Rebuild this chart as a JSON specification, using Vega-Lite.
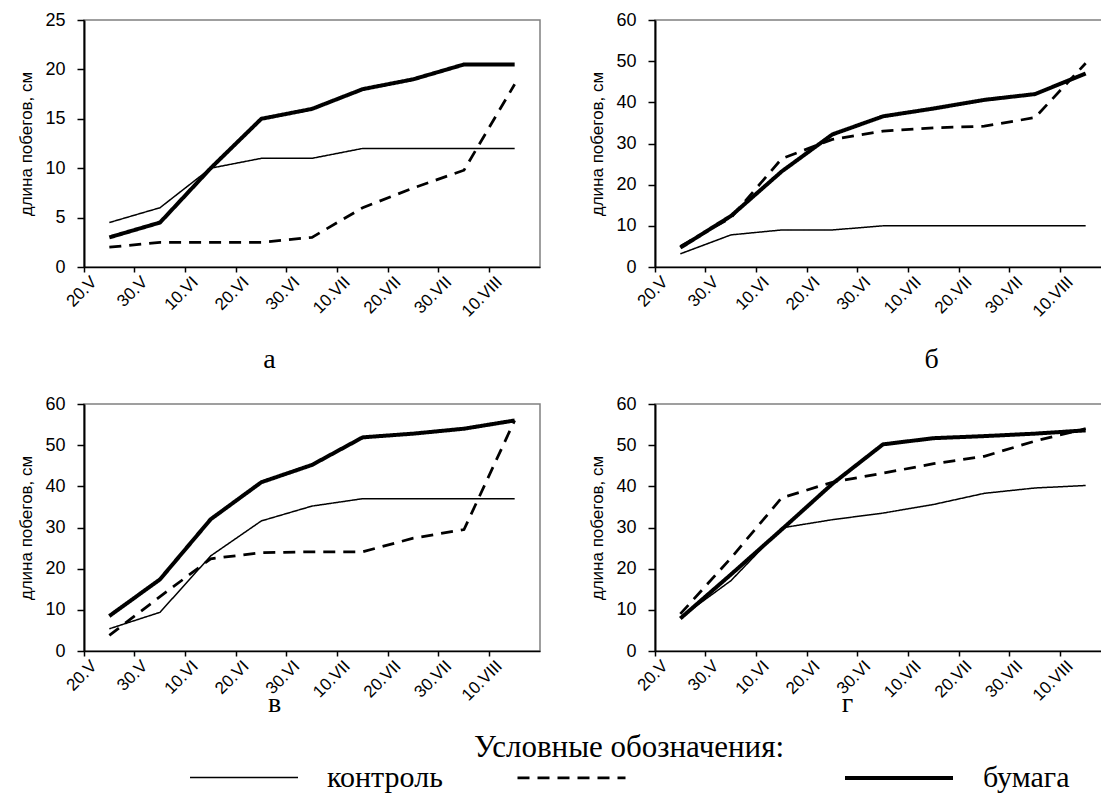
{
  "$schema": "https://vega.github.io/schema/vega-lite/v6.json",
  "background": "white",
  "padding": {"left": 17, "top": 10, "right": 0, "bottom": 0},
  "config": {
    "font": "Liberation Sans",
    "view": {"stroke": "#808080", "strokeWidth": 1.5},
    "line": {"color": "black"},
    "axis": {"grid": false, "domainColor": "black", "tickColor": "black", "labelColor": "black", "titleColor": "black", "labelFont": "Liberation Sans", "titleFont": "Liberation Sans", "titleFontWeight": "normal"},
    "axisY": {"labelFontSize": 18, "titleFontSize": 17, "tickSize": 7, "labelPadding": 12, "domainWidth": 2, "tickWidth": 1.5, "titlePadding": 9},
    "axisX": {"labelFontSize": 17, "labelAngle": -45, "labelAlign": "right", "labelBaseline": "middle", "bandPosition": 0, "labelOffset": -15, "tickSize": 5, "labelPadding": 7, "domainWidth": 1.5, "tickWidth": 1.5, "titleFont": "Liberation Serif", "titleFontSize": 28, "titleBaseline": "middle", "titleAlign": "center"},
    "legend": {"orient": "none", "legendX": 105, "legendY": 713, "direction": "horizontal", "titleFont": "Liberation Serif", "titleFontSize": 31, "titleFontWeight": "normal", "titleColor": "black", "titleAnchor": "middle", "titleLimit": 600, "titlePadding": -42, "labelFont": "Liberation Serif", "labelFontSize": 30, "labelColor": "black", "symbolType": "stroke", "symbolSize": 11664, "symbolStrokeColor": "black", "labelOffset": 28, "columnPadding": 67, "gridAlign": "all"}
  },
  "datasets": {
    "d": [
      {"panel": "а", "date": "20.V", "series": "контроль", "value": 4.5},
      {"panel": "а", "date": "30.V", "series": "контроль", "value": 6},
      {"panel": "а", "date": "10.VI", "series": "контроль", "value": 10},
      {"panel": "а", "date": "20.VI", "series": "контроль", "value": 11},
      {"panel": "а", "date": "30.VI", "series": "контроль", "value": 11},
      {"panel": "а", "date": "10.VII", "series": "контроль", "value": 12},
      {"panel": "а", "date": "20.VII", "series": "контроль", "value": 12},
      {"panel": "а", "date": "30.VII", "series": "контроль", "value": 12},
      {"panel": "а", "date": "10.VIII", "series": "контроль", "value": 12},
      {"panel": "а", "date": "20.V", "series": " ", "value": 2},
      {"panel": "а", "date": "30.V", "series": " ", "value": 2.5},
      {"panel": "а", "date": "10.VI", "series": " ", "value": 2.5},
      {"panel": "а", "date": "20.VI", "series": " ", "value": 2.5},
      {"panel": "а", "date": "30.VI", "series": " ", "value": 3},
      {"panel": "а", "date": "10.VII", "series": " ", "value": 6},
      {"panel": "а", "date": "20.VII", "series": " ", "value": 8},
      {"panel": "а", "date": "30.VII", "series": " ", "value": 9.8},
      {"panel": "а", "date": "10.VIII", "series": " ", "value": 18.5},
      {"panel": "а", "date": "20.V", "series": "бумага", "value": 3},
      {"panel": "а", "date": "30.V", "series": "бумага", "value": 4.5},
      {"panel": "а", "date": "10.VI", "series": "бумага", "value": 10},
      {"panel": "а", "date": "20.VI", "series": "бумага", "value": 15},
      {"panel": "а", "date": "30.VI", "series": "бумага", "value": 16},
      {"panel": "а", "date": "10.VII", "series": "бумага", "value": 18},
      {"panel": "а", "date": "20.VII", "series": "бумага", "value": 19},
      {"panel": "а", "date": "30.VII", "series": "бумага", "value": 20.5},
      {"panel": "а", "date": "10.VIII", "series": "бумага", "value": 20.5},
      {"panel": "б", "date": "20.V", "series": "контроль", "value": 3.2},
      {"panel": "б", "date": "30.V", "series": "контроль", "value": 7.8},
      {"panel": "б", "date": "10.VI", "series": "контроль", "value": 9},
      {"panel": "б", "date": "20.VI", "series": "контроль", "value": 9},
      {"panel": "б", "date": "30.VI", "series": "контроль", "value": 10},
      {"panel": "б", "date": "10.VII", "series": "контроль", "value": 10},
      {"panel": "б", "date": "20.VII", "series": "контроль", "value": 10},
      {"panel": "б", "date": "30.VII", "series": "контроль", "value": 10},
      {"panel": "б", "date": "10.VIII", "series": "контроль", "value": 10},
      {"panel": "б", "date": "20.V", "series": " ", "value": 5},
      {"panel": "б", "date": "30.V", "series": " ", "value": 12},
      {"panel": "б", "date": "10.VI", "series": " ", "value": 26.3},
      {"panel": "б", "date": "20.VI", "series": " ", "value": 31},
      {"panel": "б", "date": "30.VI", "series": " ", "value": 33},
      {"panel": "б", "date": "10.VII", "series": " ", "value": 33.8},
      {"panel": "б", "date": "20.VII", "series": " ", "value": 34.2},
      {"panel": "б", "date": "30.VII", "series": " ", "value": 36.3},
      {"panel": "б", "date": "10.VIII", "series": " ", "value": 49.5},
      {"panel": "б", "date": "20.V", "series": "бумага", "value": 4.7},
      {"panel": "б", "date": "30.V", "series": "бумага", "value": 12.4},
      {"panel": "б", "date": "10.VI", "series": "бумага", "value": 23.2},
      {"panel": "б", "date": "20.VI", "series": "бумага", "value": 32.2},
      {"panel": "б", "date": "30.VI", "series": "бумага", "value": 36.6},
      {"panel": "б", "date": "10.VII", "series": "бумага", "value": 38.5},
      {"panel": "б", "date": "20.VII", "series": "бумага", "value": 40.6},
      {"panel": "б", "date": "30.VII", "series": "бумага", "value": 42},
      {"panel": "б", "date": "10.VIII", "series": "бумага", "value": 47},
      {"panel": "в", "date": "20.V", "series": "контроль", "value": 5.4},
      {"panel": "в", "date": "30.V", "series": "контроль", "value": 9.4},
      {"panel": "в", "date": "10.VI", "series": "контроль", "value": 23.1},
      {"panel": "в", "date": "20.VI", "series": "контроль", "value": 31.6},
      {"panel": "в", "date": "30.VI", "series": "контроль", "value": 35.2},
      {"panel": "в", "date": "10.VII", "series": "контроль", "value": 37},
      {"panel": "в", "date": "20.VII", "series": "контроль", "value": 37},
      {"panel": "в", "date": "30.VII", "series": "контроль", "value": 37},
      {"panel": "в", "date": "10.VIII", "series": "контроль", "value": 37},
      {"panel": "в", "date": "20.V", "series": " ", "value": 3.8},
      {"panel": "в", "date": "30.V", "series": " ", "value": 13.2},
      {"panel": "в", "date": "10.VI", "series": " ", "value": 22.4},
      {"panel": "в", "date": "20.VI", "series": " ", "value": 23.9},
      {"panel": "в", "date": "30.VI", "series": " ", "value": 24.1},
      {"panel": "в", "date": "10.VII", "series": " ", "value": 24.1},
      {"panel": "в", "date": "20.VII", "series": " ", "value": 27.4},
      {"panel": "в", "date": "30.VII", "series": " ", "value": 29.5},
      {"panel": "в", "date": "10.VIII", "series": " ", "value": 56},
      {"panel": "в", "date": "20.V", "series": "бумага", "value": 8.5},
      {"panel": "в", "date": "30.V", "series": "бумага", "value": 17.4},
      {"panel": "в", "date": "10.VI", "series": "бумага", "value": 32},
      {"panel": "в", "date": "20.VI", "series": "бумага", "value": 41},
      {"panel": "в", "date": "30.VI", "series": "бумага", "value": 45.2},
      {"panel": "в", "date": "10.VII", "series": "бумага", "value": 51.9},
      {"panel": "в", "date": "20.VII", "series": "бумага", "value": 52.8},
      {"panel": "в", "date": "30.VII", "series": "бумага", "value": 54},
      {"panel": "в", "date": "10.VIII", "series": "бумага", "value": 56},
      {"panel": "г", "date": "20.V", "series": "контроль", "value": 8.1},
      {"panel": "г", "date": "30.V", "series": "контроль", "value": 17.1},
      {"panel": "г", "date": "10.VI", "series": "контроль", "value": 29.9},
      {"panel": "г", "date": "20.VI", "series": "контроль", "value": 31.9},
      {"panel": "г", "date": "30.VI", "series": "контроль", "value": 33.5},
      {"panel": "г", "date": "10.VII", "series": "контроль", "value": 35.6},
      {"panel": "г", "date": "20.VII", "series": "контроль", "value": 38.3},
      {"panel": "г", "date": "30.VII", "series": "контроль", "value": 39.6},
      {"panel": "г", "date": "10.VIII", "series": "контроль", "value": 40.2},
      {"panel": "г", "date": "20.V", "series": " ", "value": 9},
      {"panel": "г", "date": "30.V", "series": " ", "value": 22.6},
      {"panel": "г", "date": "10.VI", "series": " ", "value": 37.2},
      {"panel": "г", "date": "20.VI", "series": " ", "value": 41},
      {"panel": "г", "date": "30.VI", "series": " ", "value": 43.2},
      {"panel": "г", "date": "10.VII", "series": " ", "value": 45.5},
      {"panel": "г", "date": "20.VII", "series": " ", "value": 47.3},
      {"panel": "г", "date": "30.VII", "series": " ", "value": 51},
      {"panel": "г", "date": "10.VIII", "series": " ", "value": 54},
      {"panel": "г", "date": "20.V", "series": "бумага", "value": 7.9},
      {"panel": "г", "date": "30.V", "series": "бумага", "value": 18.6},
      {"panel": "г", "date": "10.VI", "series": "бумага", "value": 29.5},
      {"panel": "г", "date": "20.VI", "series": "бумага", "value": 40.6},
      {"panel": "г", "date": "30.VI", "series": "бумага", "value": 50.2},
      {"panel": "г", "date": "10.VII", "series": "бумага", "value": 51.7},
      {"panel": "г", "date": "20.VII", "series": "бумага", "value": 52.2},
      {"panel": "г", "date": "30.VII", "series": "бумага", "value": 52.8},
      {"panel": "г", "date": "10.VIII", "series": "бумага", "value": 53.6}
    ]
  },
  "bounds": "flush",
  "columns": 2,
  "spacing": {"row": 137, "column": 115},
  "concat": [
    {
      "width": 456, "height": 247,
      "data": {"name": "d"},
      "transform": [{"filter": "datum.panel == 'а'"}],
      "mark": {"type": "line", "color": "black"},
      "encoding": {
        "x": {"field": "date", "type": "ordinal", "sort": ["20.V", "30.V", "10.VI", "20.VI", "30.VI", "10.VII", "20.VII", "30.VII", "10.VIII"], "bandPosition": 0.5, "scale": {"type": "band", "paddingInner": 0, "paddingOuter": 0}, "axis": {"title": "а", "titleX": 185, "titleY": 92}},
        "y": {"field": "value", "type": "quantitative", "scale": {"domain": [0, 25]}, "axis": {"title": "длина побегов, см", "values": [0, 5, 10, 15, 20, 25]}},
        "strokeDash": {"field": "series", "type": "nominal", "scale": {"domain": ["контроль", " ", "бумага"], "range": [[1, 0], [12, 8], [1, 0]]}, "legend": {"title": "Условные обозначения:"}},
        "strokeWidth": {"field": "series", "type": "nominal", "scale": {"domain": ["контроль", " ", "бумага"], "range": [1.5, 4, 6]}, "legend": {"title": "Условные обозначения:"}}
      }
    },
    {
      "width": 456, "height": 247,
      "data": {"name": "d"},
      "transform": [{"filter": "datum.panel == 'б'"}],
      "mark": {"type": "line", "color": "black"},
      "encoding": {
        "x": {"field": "date", "type": "ordinal", "sort": ["20.V", "30.V", "10.VI", "20.VI", "30.VI", "10.VII", "20.VII", "30.VII", "10.VIII"], "bandPosition": 0.5, "scale": {"type": "band", "paddingInner": 0, "paddingOuter": 0}, "axis": {"title": "б", "titleX": 276, "titleY": 92}},
        "y": {"field": "value", "type": "quantitative", "scale": {"domain": [0, 60]}, "axis": {"title": "длина побегов, см", "values": [0, 10, 20, 30, 40, 50, 60]}},
        "strokeDash": {"field": "series", "type": "nominal", "scale": {"domain": ["контроль", " ", "бумага"], "range": [[1, 0], [12, 8], [1, 0]]}, "legend": {"title": "Условные обозначения:"}},
        "strokeWidth": {"field": "series", "type": "nominal", "scale": {"domain": ["контроль", " ", "бумага"], "range": [1.5, 4, 6]}, "legend": {"title": "Условные обозначения:"}}
      }
    },
    {
      "width": 456, "height": 247,
      "data": {"name": "d"},
      "transform": [{"filter": "datum.panel == 'в'"}],
      "mark": {"type": "line", "color": "black"},
      "encoding": {
        "x": {"field": "date", "type": "ordinal", "sort": ["20.V", "30.V", "10.VI", "20.VI", "30.VI", "10.VII", "20.VII", "30.VII", "10.VIII"], "bandPosition": 0.5, "scale": {"type": "band", "paddingInner": 0, "paddingOuter": 0}, "axis": {"title": "в", "titleX": 190, "titleY": 52}},
        "y": {"field": "value", "type": "quantitative", "scale": {"domain": [0, 60]}, "axis": {"title": "длина побегов, см", "values": [0, 10, 20, 30, 40, 50, 60]}},
        "strokeDash": {"field": "series", "type": "nominal", "scale": {"domain": ["контроль", " ", "бумага"], "range": [[1, 0], [12, 8], [1, 0]]}, "legend": {"title": "Условные обозначения:"}},
        "strokeWidth": {"field": "series", "type": "nominal", "scale": {"domain": ["контроль", " ", "бумага"], "range": [1.5, 4, 6]}, "legend": {"title": "Условные обозначения:"}}
      }
    },
    {
      "width": 456, "height": 247,
      "data": {"name": "d"},
      "transform": [{"filter": "datum.panel == 'г'"}],
      "mark": {"type": "line", "color": "black"},
      "encoding": {
        "x": {"field": "date", "type": "ordinal", "sort": ["20.V", "30.V", "10.VI", "20.VI", "30.VI", "10.VII", "20.VII", "30.VII", "10.VIII"], "bandPosition": 0.5, "scale": {"type": "band", "paddingInner": 0, "paddingOuter": 0}, "axis": {"title": "г", "titleX": 192, "titleY": 52}},
        "y": {"field": "value", "type": "quantitative", "scale": {"domain": [0, 60]}, "axis": {"title": "длина побегов, см", "values": [0, 10, 20, 30, 40, 50, 60]}},
        "strokeDash": {"field": "series", "type": "nominal", "scale": {"domain": ["контроль", " ", "бумага"], "range": [[1, 0], [12, 8], [1, 0]]}, "legend": {"title": "Условные обозначения:"}},
        "strokeWidth": {"field": "series", "type": "nominal", "scale": {"domain": ["контроль", " ", "бумага"], "range": [1.5, 4, 6]}, "legend": {"title": "Условные обозначения:"}}
      }
    }
  ]
}
